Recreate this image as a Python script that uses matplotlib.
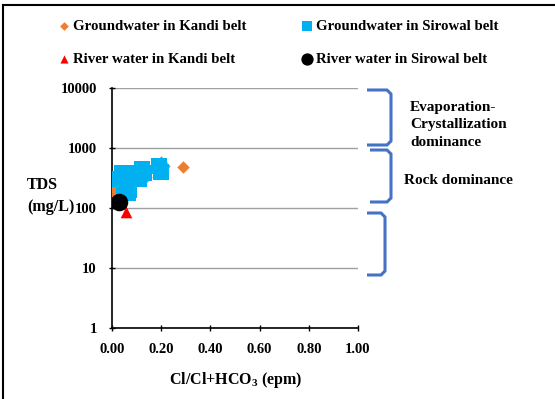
import matplotlib
matplotlib.use("Agg")
import matplotlib.pyplot as plt
from matplotlib.lines import Line2D
from matplotlib.path import Path
from matplotlib.patches import PathPatch

plt.rcParams['font.family'] = ['Liberation Serif', 'DejaVu Serif']
plt.rcParams['font.weight'] = 'bold'
plt.rcParams['mathtext.fontset'] = 'custom'
plt.rcParams['mathtext.rm'] = 'Liberation Serif:bold'
plt.rcParams['mathtext.bf'] = 'Liberation Serif:bold'

# Cl/(Cl+HCO3) ratio and TDS (mg/L) for each sample group
gw_kandi_x = [0.29, 0.21, 0.20, 0.14, 0.14, 0.06, 0.04, 0.02, 0.012, 0.01, 0.03, 0.09]
gw_kandi_y = [480, 500, 590, 460, 330, 380, 240, 225, 200, 150, 170, 400]

gw_sirowal_x = [0.03, 0.05, 0.06, 0.07, 0.08, 0.09, 0.12, 0.13, 0.11, 0.19, 0.20, 0.05, 0.065, 0.04, 0.10]
gw_sirowal_y = [300, 350, 250, 200, 300, 380, 450, 380, 300, 500, 400, 220, 180, 380, 350]

river_kandi_x = [0.056]
river_kandi_y = [85]

river_sirowal_x = [0.03]
river_sirowal_y = [128]

xticks = [0.0, 0.2, 0.4, 0.6, 0.8, 1.0]
yticks = [1, 10, 100, 1000, 10000]

W, H = 555, 399
fig = plt.figure(figsize=(W / 100, H / 100), dpi=100)
ax = fig.add_axes([112 / W, 1 - 328 / H, 246 / W, 240 / H])

ax.scatter(gw_kandi_x, gw_kandi_y, marker='D', s=40, color='#ED7D31', zorder=3,
           label='Groundwater in Kandi belt', linewidths=0)
ax.scatter(gw_sirowal_x, gw_sirowal_y, marker='s', s=120, color='#00B0F0', zorder=3,
           label='Groundwater in Sirowal belt', linewidths=0)
ax.scatter(river_kandi_x, river_kandi_y, marker='^', s=70, color='#FF0000', zorder=4,
           label='River water in Kandi belt', linewidths=0)
ax.scatter(river_sirowal_x, river_sirowal_y, marker='o', s=160, color='black', zorder=5,
           label='River water in Sirowal belt', linewidths=0)

ax.set_yscale('log')
ax.set_xlim(0, 1)
ax.set_ylim(1, 10000)
ax.set_xticks(xticks)
ax.set_xticklabels([f'{t:.2f}' for t in xticks])
ax.set_yticks(yticks)
ax.set_yticklabels([str(t) for t in yticks])
ax.minorticks_off()
ax.tick_params(labelsize=10.5, length=4, width=1, direction='inout')
ax.tick_params(axis='x', pad=9)
ax.tick_params(axis='y', pad=9)
ax.grid(axis='y', color='#A0A0A0', linewidth=1)
ax.set_axisbelow(True)
for s in ['top', 'right']:
    ax.spines[s].set_visible(False)
for s in ['left', 'bottom']:
    ax.spines[s].set_linewidth(1.2)

fig.text(236 / W, 1 - 380 / H, 'Cl/Cl+HCO$_3$ (epm)', ha='center', va='center',
         fontsize=11.5, fontweight='bold')
fig.text(27 / W, 1 - 196 / H, 'TDS\n(mg/L)', ha='left', va='center', fontsize=11.5,
         fontweight='bold', linespacing=1.45)

# legend, two columns
h, l = ax.get_legend_handles_labels()
order = [0, 2, 1, 3]
fig.legend([h[i] for i in order], [l[i] for i in order], ncol=2, frameon=False,
           loc='center', bbox_to_anchor=(277 / W, 1 - 42.5 / H), fontsize=10.7,
           handletextpad=0.0, columnspacing=3.5, labelspacing=1.3, markerscale=0.7,
           handlelength=1.2)

# blue braces, drawn in figure pixels
def brace(x0, x1, ytop, ybot, r=4):
    pts = [(x0, ytop), (x1 - r, ytop), (x1, ytop + r), (x1, ybot - r), (x1 - r, ybot),
           (x0, ybot)]
    pts = [(x / W, 1 - y / H) for x, y in pts]
    fig.add_artist(PathPatch(Path(pts), fill=False, edgecolor='#4472C4', linewidth=2.2,
                             transform=fig.transFigure, joinstyle='round'))

brace(367, 391, 90, 145)
brace(370, 391, 150, 202)
brace(367, 385, 213, 275)

fig.text(410 / W, 1 - 125 / H, 'Evaporation-\nCrystallization\ndominance', ha='left',
         va='center', fontsize=11, fontweight='bold', linespacing=1.45)
fig.text(404 / W, 1 - 180 / H, 'Rock dominance', ha='left', va='center', fontsize=11,
         fontweight='bold')

# outer frame
fig.add_artist(Line2D([2.5 / W, 2.5 / W], [0, 1 - 4.5 / H], color='black', linewidth=1.5,
                      transform=fig.transFigure))
fig.add_artist(Line2D([2.5 / W, 1], [1 - 4.5 / H, 1 - 4.5 / H], color='black', linewidth=1.5,
                      transform=fig.transFigure))

fig.savefig('out.png', dpi=100)
